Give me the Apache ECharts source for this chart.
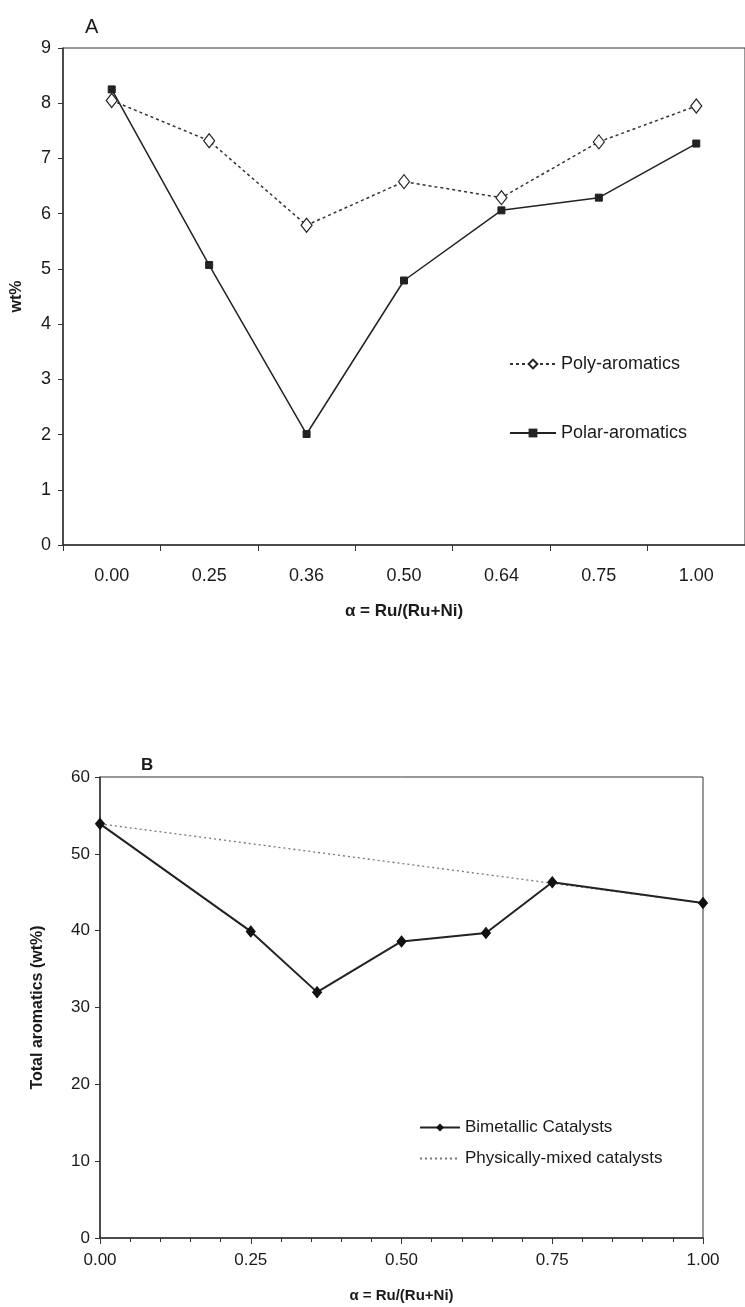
<!DOCTYPE html>
<html>
<head>
<meta charset="utf-8">
<script src="https://cdn.jsdelivr.net/npm/echarts@6/dist/echarts.min.js"></script>
<style>
  html, body { margin: 0; padding: 0; background: #fff; }
  #chart { width: 745px; height: 1307px; }
</style>
</head>
<body>
<div id="chart"></div>
<script>
// panel A
var alphaLabels = ["0.00", "0.25", "0.36", "0.50", "0.64", "0.75", "1.00"];
var polyAromatics = [8.05, 7.32, 5.79, 6.58, 6.29, 7.30, 7.95];
var polarAromatics = [8.25, 5.07, 2.01, 4.79, 6.06, 6.29, 7.27];

// panel B
var alphaValues = [0.00, 0.25, 0.36, 0.50, 0.64, 0.75, 1.00];
var bimetallic = [53.9, 39.9, 32.0, 38.6, 39.7, 46.3, 43.6];
var physMixX = [0.00, 1.00];
var physMixY = [53.9, 43.6];

var font = "Liberation Sans, Arial, sans-serif";
var ink = "#1a1a1a";

function pairs(xs, ys) {
  return xs.map(function (x, i) { return [x, ys[i]]; });
}

var myChart = echarts.init(document.getElementById("chart"));

var option = {
  backgroundColor: "#fff",
  animation: false,
  textStyle: { fontFamily: font, color: ink },
  title: [
    { text: "A", left: 80, top: 12, textStyle: { fontSize: 20, fontWeight: "normal", color: ink } },
    { text: "B", left: 136, top: 752, textStyle: { fontSize: 17, fontWeight: "bold", color: ink } }
  ],
  grid: [
    { left: 63, top: 48, width: 686, height: 497, show: true, borderColor: "#333", borderWidth: 1 },
    { left: 100, top: 777, width: 603, height: 461, show: true, borderColor: "#333", borderWidth: 1 }
  ],
  legend: [
    {
      orient: "vertical", left: 504, top: 350, itemGap: 51, itemWidth: 46, itemHeight: 11,
      textStyle: { fontSize: 18, color: ink, fontFamily: font },
      data: ["Poly-aromatics", "Polar-aromatics"]
    },
    {
      orient: "vertical", left: 414, top: 1114, itemGap: 14, itemWidth: 40, itemHeight: 10,
      textStyle: { fontSize: 17, color: ink, fontFamily: font },
      data: [
        "Bimetallic Catalysts",
        { name: "Physically-mixed catalysts", itemStyle: { opacity: 0 } }
      ]
    }
  ],
  xAxis: [
    {
      gridIndex: 0, type: "category", data: alphaLabels, boundaryGap: true,
      name: "α = Ru/(Ru+Ni)", nameLocation: "middle", nameGap: 58,
      nameTextStyle: { fontSize: 17, fontWeight: "bold", color: ink },
      axisLine: { lineStyle: { color: "#333", width: 1.5 } },
      axisTick: { show: true, alignWithLabel: false, length: 6, lineStyle: { color: "#333" } },
      axisLabel: { fontSize: 18, color: ink, margin: 22 },
      splitLine: { show: false }
    },
    {
      gridIndex: 1, type: "value", min: 0, max: 1, interval: 0.25,
      name: "α = Ru/(Ru+Ni)", nameLocation: "middle", nameGap: 50,
      nameTextStyle: { fontSize: 15, fontWeight: "bold", color: ink },
      axisLine: { lineStyle: { color: "#333", width: 1.5 } },
      axisTick: { show: true, length: 6, lineStyle: { color: "#333" } },
      minorTick: { show: true, splitNumber: 5, length: 4, lineStyle: { color: "#333" } },
      axisLabel: { fontSize: 17, color: ink, margin: 14, formatter: function (v) { return v.toFixed(2); } },
      splitLine: { show: false }
    }
  ],
  yAxis: [
    {
      gridIndex: 0, type: "value", min: 0, max: 9, interval: 1,
      name: "wt%", nameLocation: "middle", nameGap: 38,
      nameTextStyle: { fontSize: 16, fontWeight: "bold", color: ink },
      axisLine: { show: true, lineStyle: { color: "#333", width: 1.5 } },
      axisTick: { show: true, length: 5, lineStyle: { color: "#333" } },
      axisLabel: { fontSize: 18, color: ink, margin: 12 },
      splitLine: { show: false }
    },
    {
      gridIndex: 1, type: "value", min: 0, max: 60, interval: 10,
      name: "Total aromatics (wt%)", nameLocation: "middle", nameGap: 54,
      nameTextStyle: { fontSize: 16, fontWeight: "bold", color: ink },
      axisLine: { show: true, lineStyle: { color: "#333", width: 1.5 } },
      axisTick: { show: true, length: 5, lineStyle: { color: "#333" } },
      axisLabel: { fontSize: 17, color: ink, margin: 10 },
      splitLine: { show: false }
    }
  ],
  series: [
    {
      name: "Poly-aromatics", type: "line", xAxisIndex: 0, yAxisIndex: 0,
      data: polyAromatics,
      symbol: "diamond", symbolSize: [11, 14],
      lineStyle: { color: "#333", width: 1.5, type: [3, 3] },
      itemStyle: { color: "#fff", borderColor: "#222", borderWidth: 1.2 },
      z: 3
    },
    {
      name: "Polar-aromatics", type: "line", xAxisIndex: 0, yAxisIndex: 0,
      data: polarAromatics,
      symbol: "rect", symbolSize: 7,
      lineStyle: { color: "#222", width: 1.5 },
      itemStyle: { color: "#222", borderColor: "#222" },
      z: 4
    },
    {
      name: "Physically-mixed catalysts", type: "line", xAxisIndex: 1, yAxisIndex: 1,
      data: pairs(physMixX, physMixY),
      symbol: "none",
      lineStyle: { color: "#777", width: 1.3, type: [2, 3] },
      itemStyle: { color: "#777" },
      z: 3
    },
    {
      name: "Bimetallic Catalysts", type: "line", xAxisIndex: 1, yAxisIndex: 1,
      data: pairs(alphaValues, bimetallic),
      symbol: "diamond", symbolSize: [9, 11],
      lineStyle: { color: "#222", width: 2 },
      itemStyle: { color: "#111", borderColor: "#111" },
      z: 4
    }
  ]
};

myChart.setOption(option);
</script>
</body>
</html>
